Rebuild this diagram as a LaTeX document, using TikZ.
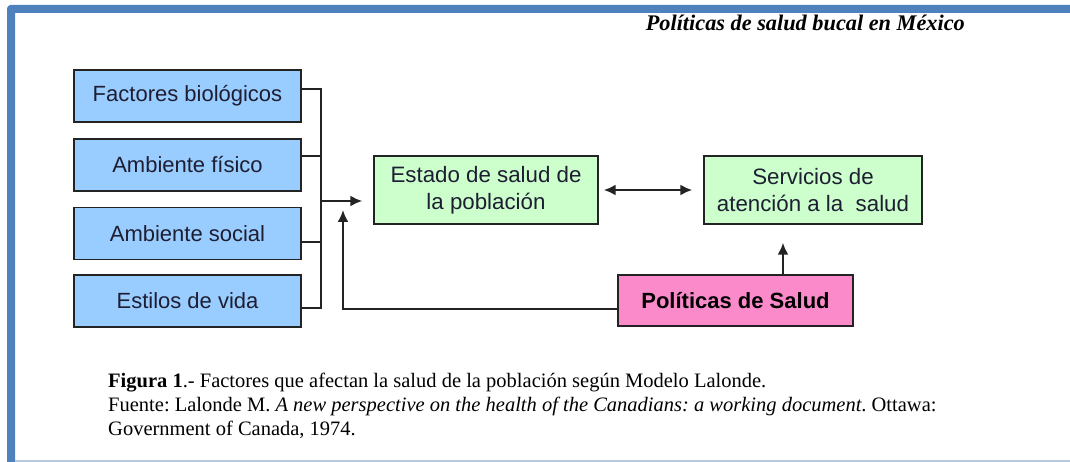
\documentclass[tikz,border=0pt]{standalone}
\usepackage{fontspec}
\setmainfont{Liberation Serif}
\newfontfamily\arialf{Liberation Sans}
\usetikzlibrary{arrows.meta,calc}
\definecolor{frameblue}{RGB}{79,129,189}
\definecolor{boxblue}{RGB}{153,204,255}
\definecolor{boxgreen}{RGB}{204,255,204}
\definecolor{boxpink}{RGB}{250,138,202}
\definecolor{linegray}{RGB}{35,35,35}
\definecolor{bottomline}{RGB}{184,200,216}
\definecolor{boxtext}{RGB}{30,30,50}
\frenchspacing
\begin{document}
\begin{tikzpicture}[x=1pt,y=-1pt,
  box/.style={draw=linegray,line width=1.4pt,inner sep=0pt,align=center,
    font=\arialf\fontsize{22}{27}\selectfont,text=boxtext},
  lbox/.style={box,fill=boxblue,minimum width=227,minimum height=52},
  gbox/.style={box,fill=boxgreen,minimum height=68,font=\arialf\fontsize{22.3}{27}\selectfont},
  pbox/.style={box,fill=boxpink,minimum width=235,minimum height=51,
    font=\arialf\bfseries\fontsize{22}{26}\selectfont,text=black},
  ln/.style={draw=linegray,line width=2.2pt},
  arr/.style={ln,-{Latex[length=12pt,width=11pt]}},
  darr/.style={ln,{Latex[length=12pt,width=11pt]}-{Latex[length=12pt,width=11pt]}},
  captxt/.style={anchor=base west,inner sep=0pt,font=\fontsize{20.5}{23}\selectfont}
]
\useasboundingbox (0,0) rectangle (1070,462);
% frame
\fill[white] (0,0) rectangle (1070,462);
\fill[frameblue,rounded corners=4] (7,5) rectangle (1090,13);
\fill[frameblue,rounded corners=4] (7,5) rectangle (15,480);
\draw[bottomline,line width=1.5] (15,461) -- (1070,461);
% title
\node[anchor=base east,inner sep=0pt,font=\bfseries\itshape\fontsize{22.3}{26}\selectfont] (title) at (965,31) {Políticas de salud bucal en México};
% boxes
\node[lbox] (b1) at (187.5,96) {Factores biológicos};
\node[lbox] (b2) at (187.5,165) {Ambiente físico};
\node[lbox] (b3) at (187.5,233.5) {Ambiente social};
\node[lbox] (b4) at (187.5,301) {Estilos de vida};
\node[gbox,minimum width=224] (g1) at (486,190) {Estado de salud de\\la población};
\node[gbox,minimum width=218] (g2) at (813,190) {Servicios de\\atención a la\ \ salud};
\node[pbox] (pk) at (735.5,300.5) {Políticas de Salud};
% connectors
\coordinate (vt) at (321,89);
\coordinate (vb) at (321,308);
\coordinate (ja) at (321,201);
\coordinate (lc) at (343,309);
\coordinate (lt) at (343,210);
\draw[ln] (b1.east |- vt) -- (vt) -- (vb) -- (b4.east |- vb);
\draw[ln] (b2.east |- 0,156) -- (321,156);
\draw[ln] (b3.east |- 0,242) -- (321,242);
\draw[arr,shorten >=11pt] (ja) -- (ja -| g1.west);
\draw[arr] (pk.west |- lc) -- (lc) -- (lt);
\draw[darr,shorten <=5pt,shorten >=11pt] (g1.east) -- (g2.west);
\draw[arr,shorten >=18pt] (pk.north -| 783,0) -- (g2.south -| 783,0);
% caption
\node[captxt] (c1) at (108,387) {\textbf{Figura 1}.- Factores que afectan la salud de la población según Modelo Lalonde.};
\node[captxt] (c2) at (108,411) {Fuente: Lalonde M. \textit{A new perspective on the health of the Canadians: a working document}. Ottawa:};
\node[captxt] (c3) at (108,435) {Government of Canada, 1974.};
\end{tikzpicture}
\end{document}
